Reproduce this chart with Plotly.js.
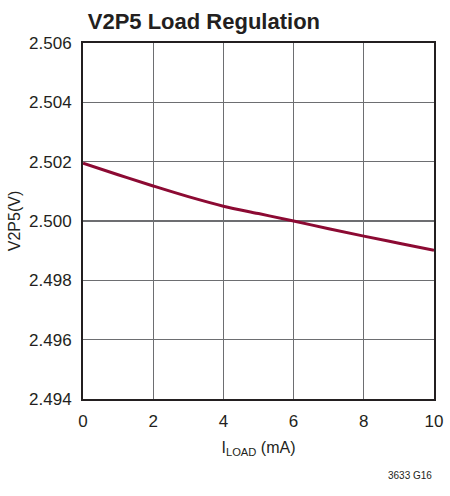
<!DOCTYPE html>
<html><head><meta charset="utf-8">
<script src="https://cdn.plot.ly/plotly-3.0.1.min.js"></script>
<style>html,body{margin:0;padding:0;background:#fff;}#chart{width:450px;height:496px;}</style>
</head><body><div id="chart"></div>
<script>
const loadCurrent = [0, 1, 2, 3, 4, 5, 6, 7, 8, 9, 10];
const v2p5 = [2.50195, 2.50156, 2.50118, 2.50082, 2.5005, 2.50025, 2.5, 2.49974, 2.49949, 2.49925, 2.49901];
const xTicks = [0, 2, 4, 6, 8, 10];
const yTicks = [2.494, 2.496, 2.498, 2.500, 2.502, 2.504, 2.506];
const FONT = '"Liberation Sans Narrow", "Arial Narrow", "Liberation Sans", Arial, sans-serif';

Plotly.newPlot('chart', [{
  x: loadCurrent, y: v2p5, type: 'scatter', mode: 'lines',
  line: {color: '#8c0a33', width: 3, shape: 'spline'}
}], {
  width: 450, height: 496,
  margin: {l: 83, r: 16, t: 43, b: 97},
  paper_bgcolor: '#fff', plot_bgcolor: '#fff',
  font: {family: FONT, color: '#231f20', size: 16},
  title: {text: '<b>V2P5 Load Regulation</b>', font: {family: FONT, size: 22, color: '#231f20'},
    x: 0.195, xanchor: 'left', y: 0.958, yanchor: 'middle'},
  xaxis: {range: [0, 10], tickvals: xTicks, ticktext: xTicks.map(String), showgrid: true,
    gridcolor: '#6d6e71', gridwidth: 1.3, zeroline: false, showline: true, linecolor: '#231f20', linewidth: 2, mirror: true,
    ticks: 'outside', ticklen: 6, tickcolor: 'rgba(0,0,0,0)', tickfont: {size: 17},
    title: {text: 'I<sub>LOAD</sub> (mA)', font: {size: 16}, standoff: 11}},
  yaxis: {range: [2.494, 2.506], tickvals: yTicks, ticktext: yTicks.map(v => v.toFixed(3)), showgrid: true,
    gridcolor: '#6d6e71', gridwidth: 1.3, zeroline: false, showline: true, linecolor: '#231f20', linewidth: 2, mirror: true,
    ticks: 'outside', ticklen: 6, tickcolor: 'rgba(0,0,0,0)', tickfont: {size: 17},
    title: {text: 'V2P5(V)', font: {size: 16}, standoff: 4}},
  annotations: [{text: '3633 G16', xref: 'paper', yref: 'paper', x: 1.0, y: -0.215, xanchor: 'right', yanchor: 'middle',
    showarrow: false, font: {size: 10, color: '#231f20'}}],
  showlegend: false
}, {staticPlot: true, displayModeBar: false});
</script></body></html>
